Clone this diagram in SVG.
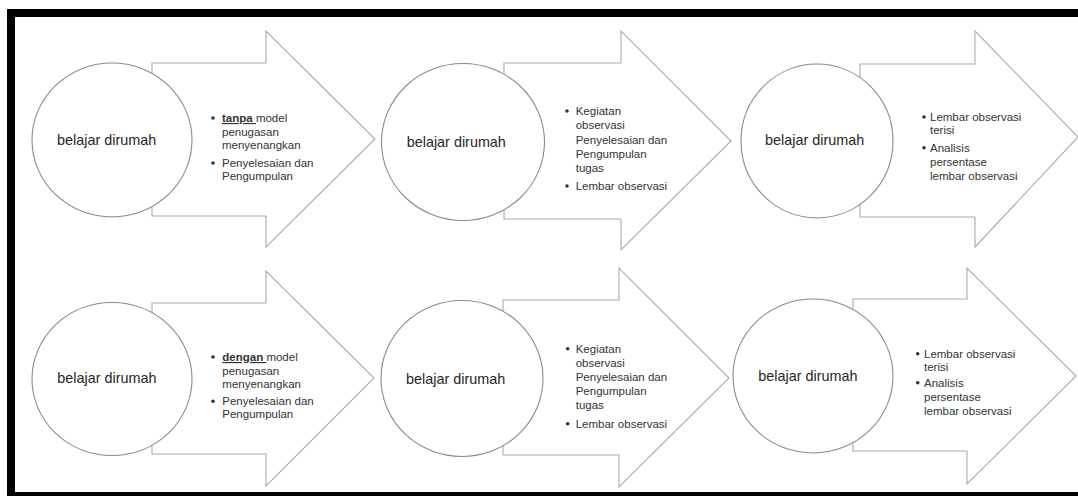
<svg xmlns="http://www.w3.org/2000/svg" width="1078" height="496" viewBox="0 0 1078 496">
<style>
.arrow{fill:#fff;stroke:#ababab;stroke-width:1.1}
.circ{fill:#fff;stroke:#8a8a8a;stroke-width:1.1}
.ct{font-family:"Liberation Sans",Arial,sans-serif;font-size:14.4px;fill:#262626}
.bt{font-family:"Liberation Sans",Arial,sans-serif;font-size:11.5px;fill:#333}
.b{font-weight:bold;text-decoration:underline}
.dot{fill:#333}
</style>
<rect width="1078" height="496" fill="#fff"/>
<g id="frame">
<rect x="7" y="9" width="1071" height="8" fill="#000"/>
<rect x="7" y="9" width="8" height="487" fill="#000"/>
<rect x="7" y="492" width="1071" height="4" fill="#000"/>
</g>
<g id="connectors"></g>
<g id="arrow1">
<polygon class="arrow" points="152,63 266,63 266,31 375,139 266,247 266,216 152,216"/>
<circle class="dot" cx="213" cy="118" r="1.8"/>
<circle class="dot" cx="213" cy="163" r="1.8"/>
<text class="bt"><tspan x="222" y="122"><tspan class="b">tanpa </tspan>model</tspan><tspan x="222" y="135.7">penugasan</tspan><tspan x="222" y="149.3">menyenangkan</tspan><tspan x="222" y="166.7">Penyelesaian dan</tspan><tspan x="222" y="180">Pengumpulan</tspan></text>
</g>
<g id="circle1">
<ellipse class="circ" cx="112" cy="140" rx="80" ry="77"/>
<text class="ct" x="57" y="145">belajar dirumah</text>
</g>
<g id="arrow2">
<polygon class="arrow" points="504,63 621,63 621,31 731,141 621,250 621,219 504,219"/>
<circle class="dot" cx="567" cy="111" r="1.8"/>
<circle class="dot" cx="567" cy="186" r="1.8"/>
<text class="bt"><tspan x="575.7" y="115">Kegiatan</tspan><tspan x="575.7" y="129">observasi</tspan><tspan x="575.7" y="144">Penyelesaian dan</tspan><tspan x="575.7" y="158.3">Pengumpulan</tspan><tspan x="575.7" y="171.7">tugas</tspan><tspan x="575.7" y="190">Lembar observasi</tspan></text>
</g>
<g id="circle2">
<ellipse class="circ" cx="463" cy="142" rx="81.5" ry="78.5"/>
<text class="ct" x="406.7" y="146.7">belajar dirumah</text>
</g>
<g id="arrow3">
<polygon class="arrow" points="860,64 975,64 975,31 1078,137 975,247 975,217 860,217"/>
<circle class="dot" cx="924" cy="117" r="1.8"/>
<circle class="dot" cx="924" cy="147.7" r="1.8"/>
<text class="bt"><tspan x="930" y="121">Lembar observasi</tspan><tspan x="930" y="134.3">terisi</tspan><tspan x="930" y="151.7">Analisis</tspan><tspan x="930" y="165.7">persentase</tspan><tspan x="930" y="180">lembar observasi</tspan></text>
</g>
<g id="circle3">
<ellipse class="circ" cx="817" cy="141" rx="76" ry="77"/>
<text class="ct" x="765" y="145">belajar dirumah</text>
</g>
<g id="arrow4">
<polygon class="arrow" points="152,303 266,303 266,271 374,378 266,486 266,454 152,454"/>
<circle class="dot" cx="213" cy="357" r="1.8"/>
<circle class="dot" cx="213" cy="401.3" r="1.8"/>
<text class="bt"><tspan x="222.3" y="361"><tspan class="b">dengan </tspan>model</tspan><tspan x="222.3" y="375">penugasan</tspan><tspan x="222.3" y="388.3">menyenangkan</tspan><tspan x="222.3" y="405.3">Penyelesaian dan</tspan><tspan x="222.3" y="418.3">Pengumpulan</tspan></text>
</g>
<g id="circle4">
<ellipse class="circ" cx="112" cy="379" rx="80" ry="76.5"/>
<text class="ct" x="57.3" y="383.3">belajar dirumah</text>
</g>
<g id="arrow5">
<polygon class="arrow" points="503,300 619,300 619,268 729,378 619,487 619,455 503,455"/>
<circle class="dot" cx="567.7" cy="348.7" r="1.8"/>
<circle class="dot" cx="567.7" cy="423.7" r="1.8"/>
<text class="bt"><tspan x="575.7" y="352.7">Kegiatan</tspan><tspan x="575.7" y="366.7">observasi</tspan><tspan x="575.7" y="381">Penyelesaian dan</tspan><tspan x="575.7" y="395">Pengumpulan</tspan><tspan x="575.7" y="409.3">tugas</tspan><tspan x="575.7" y="427.7">Lembar observasi</tspan></text>
</g>
<g id="circle5">
<ellipse class="circ" cx="462" cy="378.5" rx="81" ry="78"/>
<text class="ct" x="406" y="383.7">belajar dirumah</text>
</g>
<g id="arrow6">
<polygon class="arrow" points="853,299 967,299 967,268 1076,376 967,484 967,451 853,451"/>
<circle class="dot" cx="917.7" cy="353.7" r="1.8"/>
<circle class="dot" cx="917.7" cy="382.7" r="1.8"/>
<text class="bt"><tspan x="924" y="357.7">Lembar observasi</tspan><tspan x="924" y="371">terisi</tspan><tspan x="924" y="386.7">Analisis</tspan><tspan x="924" y="401">persentase</tspan><tspan x="924" y="415">lembar observasi</tspan></text>
</g>
<g id="circle6">
<ellipse class="circ" cx="813" cy="376" rx="80" ry="77"/>
<text class="ct" x="758.3" y="381">belajar dirumah</text>
</g>
</svg>
